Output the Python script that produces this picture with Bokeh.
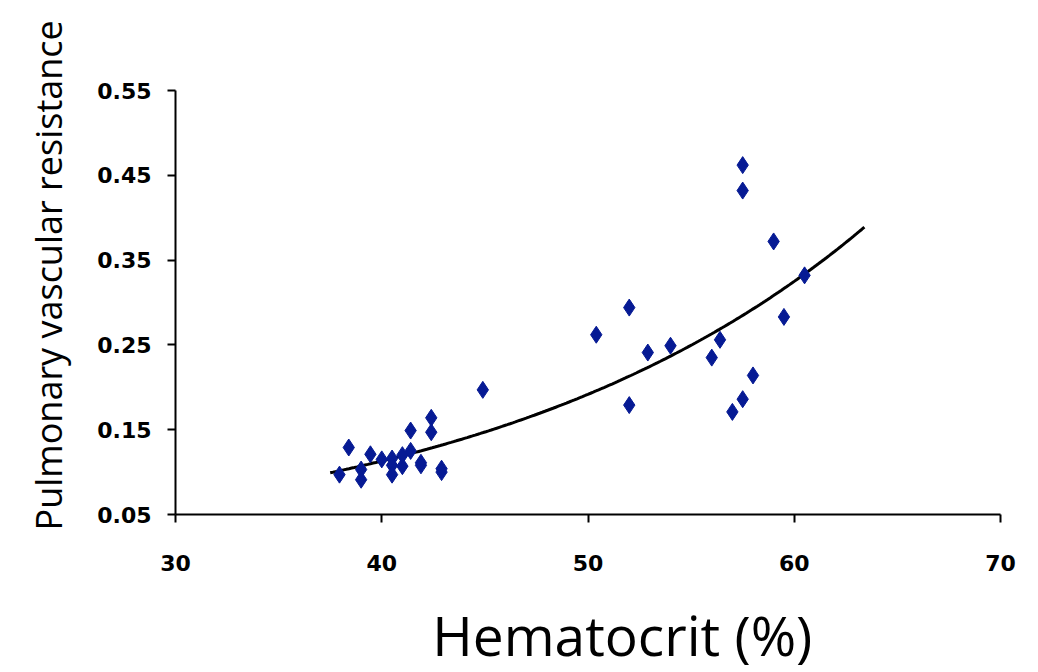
import numpy as np
from bokeh.plotting import figure
from bokeh.layouts import column
from bokeh.models import FixedTicker, Title, Label, ColumnDataSource
from bokeh.embed import file_html
from bokeh.resources import INLINE

# Hematocrit (%) vs pulmonary vascular resistance
hematocrit = [37.95, 38.4, 39.0, 39.0, 39.45, 40.0, 40.5, 40.5, 40.5, 41.0,
              41.0, 41.4, 41.4, 41.9, 41.9, 42.4, 42.4, 42.9, 42.9, 44.9,
              50.4, 52.0, 52.0, 52.9, 54.0, 56.0, 56.4, 57.0, 57.5, 58.0,
              57.5, 57.5, 59.0, 59.5, 60.5]
pvr = [0.097, 0.129, 0.091, 0.103, 0.121, 0.115, 0.116, 0.108, 0.097, 0.107,
       0.120, 0.125, 0.149, 0.111, 0.108, 0.147, 0.164, 0.104, 0.100, 0.197,
       0.262, 0.294, 0.179, 0.241, 0.249, 0.235, 0.256, 0.171, 0.186, 0.214,
       0.462, 0.432, 0.372, 0.283, 0.332]

x_ticks = [30, 40, 50, 60, 70]
y_ticks = [0.05, 0.15, 0.25, 0.35, 0.45, 0.55]

# exponential trend line: least squares on log(pvr)
trend_start, trend_end = 37.5, 63.4
b, log_a = np.polyfit(np.array(hematocrit), np.log(np.array(pvr)), 1)
tx = np.linspace(trend_start, trend_end, 200)
ty = np.exp(log_a + b * tx)

W, H_MAIN, H_TITLE = 1038, 584, 88

p = figure(width=W, height=H_MAIN, output_backend="svg", toolbar_location=None,
           x_range=(30, 70), y_range=(0.05, 0.55),
           min_border_left=175, min_border_right=38,
           min_border_top=90, min_border_bottom=70)
p.outline_line_color = None
p.xgrid.visible = False
p.ygrid.visible = False
p.background_fill_color = "white"
p.border_fill_color = "white"

p.line(tx, ty, line_color="black", line_width=3)
src = ColumnDataSource(dict(x=hematocrit, y=pvr))
p.scatter("x", "y", source=src, marker="diamond", size=17,
          fill_color="#061a94", line_color="#061a94")

for ax, ticks in ((p.xaxis, x_ticks), (p.yaxis, y_ticks)):
    ax.ticker = FixedTicker(ticks=ticks)
    ax.minor_tick_line_color = None
    ax.major_tick_in = 0
    ax.major_tick_out = 8
    ax.axis_line_width = 2
    ax.major_tick_line_width = 2
    ax.axis_line_color = "black"
    ax.major_tick_line_color = "black"
    ax.major_label_text_font = "DejaVu Sans"
    ax.major_label_text_font_style = "bold"
    ax.major_label_text_font_size = "22px"
    ax.major_label_text_color = "black"

p.xaxis.major_label_standoff = 32
p.yaxis.major_label_standoff = 16

p.add_layout(Title(text="Pulmonary vascular resistance", align="left",
                   offset=-16, standoff=43,
                   text_font="Open Sans", text_font_size="36px",
                   text_font_style="normal", text_color="black"), "left")

# strip under the chart carrying the x-axis title
# (its frame lines up with the chart frame above)
strip = figure(width=W, height=H_TITLE, output_backend="svg", toolbar_location=None,
               x_range=(0, W), y_range=(0, H_TITLE),
               x_axis_location=None, y_axis_location=None, min_border=0)
strip.outline_line_color = None
strip.xgrid.visible = False
strip.ygrid.visible = False
strip.add_layout(Label(x=323, y=38, text="Hematocrit (%)",
                       text_align="left", text_baseline="alphabetic",
                       text_font="Open Sans", text_font_size="55px",
                       text_color="black"))

layout = column(p, strip, spacing=0)
open("out.html", "w").write(file_html(layout, INLINE))
